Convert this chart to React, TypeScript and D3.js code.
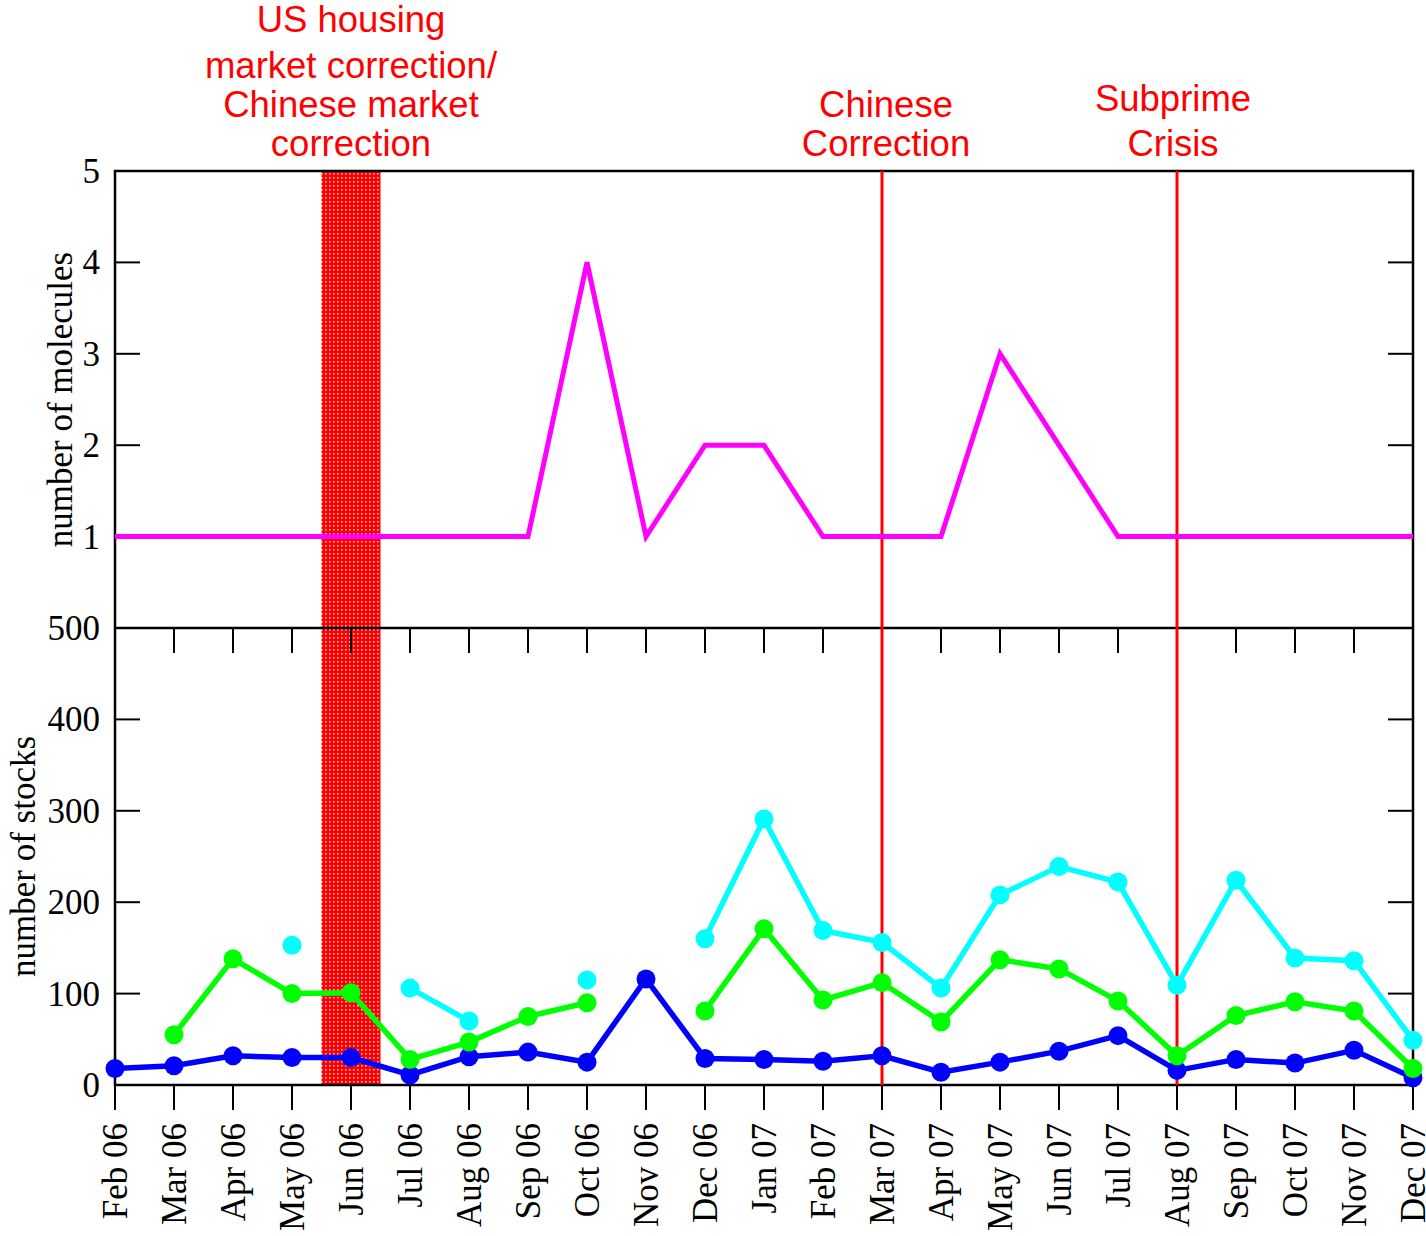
import React from 'react'
import * as d3 from 'd3'

const width = 1426
const height = 1236
const plot = { left: 115, right: 1413, top: 171, mid: 628, bottom: 1085 }
const tickLen = 25

const months = [
  'Feb 06', 'Mar 06', 'Apr 06', 'May 06', 'Jun 06', 'Jul 06', 'Aug 06', 'Sep 06',
  'Oct 06', 'Nov 06', 'Dec 06', 'Jan 07', 'Feb 07', 'Mar 07', 'Apr 07', 'May 07',
  'Jun 07', 'Jul 07', 'Aug 07', 'Sep 07', 'Oct 07', 'Nov 07', 'Dec 07',
]

const molecules = [1, 1, 1, 1, 1, 1, 1, 1, 4, 1, 2, 2, 1, 1, 1, 3, 2, 1, 1, 1, 1, 1, 1]

const blueStocks = [18, 21, 32, 30, 30, 11, 31, 36, 25, 116, 29, 28, 26, 32, 14, 25, 37, 54, 16, 28, 24, 38, 8]
const greenStocks = [null, 55, 138, 100, 101, 28, 47, 75, 90, null, 81, 171, 93, 112, 69, 137, 127, 92, 32, 76, 91, 81, 18]
const cyanStocks = [null, null, null, 153, null, 106, 70, null, 115, null, 160, 291, 169, 156, 106, 208, 239, 222, 109, 224, 139, 136, 49]

const topTicks = [1, 2, 3, 4, 5]
const bottomTicks = [0, 100, 200, 300, 400, 500]

// shaded period (in month index units) and event markers
const band = [3.5, 4.5]
const eventMonths = ['Mar 07', 'Aug 07']

const annotations = [
  { at: 4, dx: 0, lines: ['US housing', 'market correction/', 'Chinese market', 'correction'], baselines: [32, 78, 117, 156] },
  { at: 13, dx: 4, lines: ['Chinese', 'Correction'], baselines: [117, 156] },
  { at: 18, dx: -4, lines: ['Subprime', 'Crisis'], baselines: [111, 156] },
]

const seriesList = [
  { name: 'blue', values: blueStocks, color: '#0000ff' },
  { name: 'green', values: greenStocks, color: '#00ff00' },
  { name: 'cyan', values: cyanStocks, color: '#00ffff' },
]

const serif = '"Liberation Serif", "Times New Roman", serif'
const sans = '"Liberation Sans", Arial, sans-serif'

export default function App() {
  const x = d3.scaleLinear().domain([0, months.length - 1]).range([plot.left, plot.right])
  const yTop = d3.scaleLinear().domain([0, 5]).range([plot.mid, plot.top])
  const yBot = d3.scaleLinear().domain([0, 500]).range([plot.bottom, plot.mid])

  const molLine = d3
    .line<number>()
    .x((_, i) => x(i))
    .y((d) => yTop(d))

  const stockLine = d3
    .line<number | null>()
    .defined((d) => d != null)
    .x((_, i) => x(i))
    .y((d) => yBot(d as number))

  return (
    <svg
      width={width}
      height={height}
      style={{ position: 'absolute', left: 0, top: 0, background: 'white' }}
    >
      <defs>
        <pattern id="dots" width={4} height={4} patternUnits="userSpaceOnUse">
          <rect width={4} height={4} fill="#ff0000" />
          <rect x={1} y={1} width={1.6} height={1.6} fill="#ffffff" opacity={0.75} />
        </pattern>
      </defs>

      {/* shaded period */}
      <rect
        x={x(band[0])}
        width={x(band[1]) - x(band[0])}
        y={plot.top}
        height={plot.bottom - plot.top}
        fill="url(#dots)"
      />

      {/* frames */}
      <rect
        x={plot.left}
        y={plot.top}
        width={plot.right - plot.left}
        height={plot.bottom - plot.top}
        fill="none"
        stroke="black"
        strokeWidth={2.5}
      />
      <line x1={plot.left} x2={plot.right} y1={plot.mid} y2={plot.mid} stroke="black" strokeWidth={2.5} />

      {/* top panel y ticks */}
      {topTicks.map((t) => (
        <g key={'t' + t}>
          {t < 5 && (
            <>
              <line x1={plot.left} x2={plot.left + tickLen} y1={yTop(t)} y2={yTop(t)} stroke="black" strokeWidth={2} />
              <line x1={plot.right} x2={plot.right - tickLen} y1={yTop(t)} y2={yTop(t)} stroke="black" strokeWidth={2} />
            </>
          )}
          <text x={100} y={yTop(t)} dy="0.34em" textAnchor="end" fontFamily={serif} fontSize={35}>
            {t}
          </text>
        </g>
      ))}

      {/* bottom panel y ticks */}
      {bottomTicks.map((t) => (
        <g key={'b' + t}>
          {t > 0 && t < 500 && (
            <>
              <line x1={plot.left} x2={plot.left + tickLen} y1={yBot(t)} y2={yBot(t)} stroke="black" strokeWidth={2} />
              <line x1={plot.right} x2={plot.right - tickLen} y1={yBot(t)} y2={yBot(t)} stroke="black" strokeWidth={2} />
            </>
          )}
          <text x={100} y={yBot(t)} dy="0.34em" textAnchor="end" fontFamily={serif} fontSize={35}>
            {t}
          </text>
        </g>
      ))}

      {/* x ticks and labels */}
      {months.map((m, i) => (
        <g key={m}>
          <line x1={x(i)} x2={x(i)} y1={plot.mid} y2={plot.mid + tickLen} stroke="black" strokeWidth={2} />
          <line x1={x(i)} x2={x(i)} y1={plot.bottom} y2={plot.bottom + tickLen} stroke="black" strokeWidth={2} />
          <text
            transform={`translate(${x(i) + 12},1123) rotate(-90)`}
            textAnchor="end"
            fontFamily={serif}
            fontSize={35}
          >
            {m}
          </text>
        </g>
      ))}

      {/* event lines */}
      {eventMonths.map((m) => (
        <line
          key={m}
          x1={x(months.indexOf(m))}
          x2={x(months.indexOf(m))}
          y1={plot.top}
          y2={plot.bottom}
          stroke="#ff0000"
          strokeWidth={3}
        />
      ))}

      {/* axis titles */}
      <text
        transform={`translate(72,${(plot.top + plot.mid) / 2}) rotate(-90)`}
        textAnchor="middle"
        fontFamily={serif}
        fontSize={35}
      >
        number of molecules
      </text>
      <text
        transform={`translate(35,${(plot.mid + plot.bottom) / 2}) rotate(-90)`}
        textAnchor="middle"
        fontFamily={serif}
        fontSize={35}
      >
        number of stocks
      </text>

      {/* molecules line */}
      <path d={molLine(molecules) || ''} fill="none" stroke="#ff00ff" strokeWidth={5} />

      {/* stock series */}
      {seriesList.map((s) => (
        <g key={s.name}>
          <path d={stockLine(s.values) || ''} fill="none" stroke={s.color} strokeWidth={5.5} />
          {s.values.map((v, i) =>
            v == null ? null : <circle key={i} cx={x(i)} cy={yBot(v)} r={9.5} fill={s.color} />
          )}
        </g>
      ))}

      {/* annotations */}
      {annotations.map((a) => (
        <g key={a.lines[0]}>
          {a.lines.map((l, j) => (
            <text
              key={l}
              x={x(a.at) + a.dx}
              y={a.baselines[j]}
              textAnchor="middle"
              fontFamily={sans}
              fontSize={36.5}
              fill="#ff0000"
            >
              {l}
            </text>
          ))}
        </g>
      ))}
    </svg>
  )
}
